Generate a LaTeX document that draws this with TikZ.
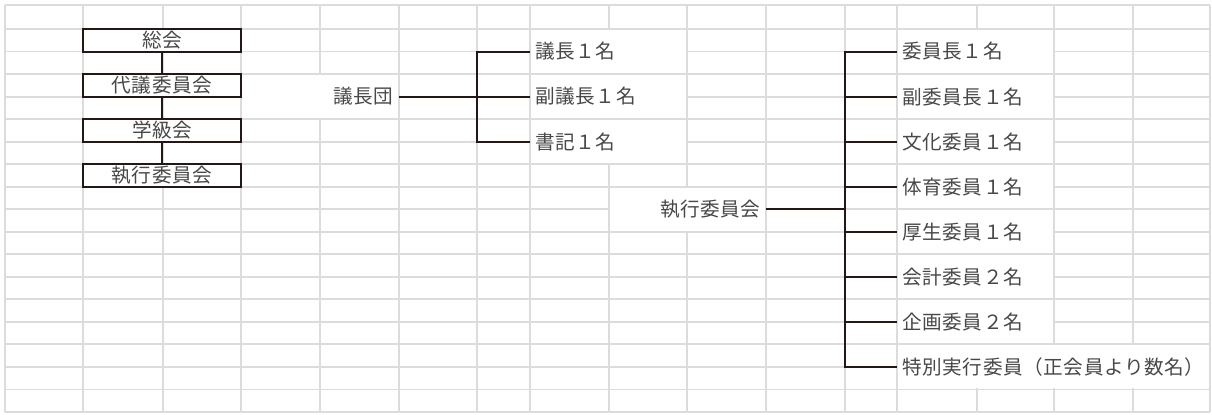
\documentclass[tikz,border=0pt]{standalone}
\usepackage{fontspec}
\setmainfont{Noto Sans CJK JP}[LetterSpace=3]
\definecolor{gridc}{RGB}{220,220,220}
\definecolor{ink}{RGB}{35,24,21}
\definecolor{txt}{RGB}{72,72,72}
\tikzset{
  gridline/.style={draw=gridc, line width=0.95pt},
  conn/.style={draw=ink, line width=1pt},
  jpfont/.style={font=\fontsize{9.8}{10}\selectfont, text=txt},
  orgbox/.style={jpfont, draw=ink, line width=1pt, fill=white, minimum width=79pt, minimum height=11.26pt, inner sep=0pt},
  lbl/.style={jpfont, inner xsep=2.5pt, inner ysep=0pt},
}
\newcommand\mcell[4]{\fill[white] ({#1+1},{#2+1}) rectangle ({#3-1},{#4-1});}
\begin{document}
\begin{tikzpicture}[x=0.5pt, y=-0.5pt]
\useasboundingbox[fill=white] (0,0) rectangle (1212,414);
% grid
\foreach \x in {5,83,163,241,320,399,477,530,609,687,766,845,897,977,1054,1133,1210}
  \draw[gridline] (\x,5) -- (\x,412);
\draw[gridline] (5,5) -- (1210,5);
\foreach \k in {0,...,17}
  \draw[gridline] (5,{29+22.5294*\k}) -- (1210,{29+22.5294*\k});
% merged cells
\mcell{241}{74.06}{399}{119.12}
\mcell{530}{29}{687}{74.06}
\mcell{530}{74.06}{687}{119.12}
\mcell{530}{119.12}{687}{164.18}
\mcell{609}{186.71}{766}{231.76}
\mcell{897}{29}{1054}{74.06}
\mcell{897}{74.06}{1054}{119.12}
\mcell{897}{119.12}{1054}{164.18}
\mcell{897}{164.18}{1054}{209.24}
\mcell{897}{209.24}{1054}{254.29}
\mcell{897}{254.29}{1054}{299.35}
\mcell{897}{299.35}{1054}{344.41}
\mcell{897}{344.41}{1210}{389.47}
% left stack
\node[orgbox] (soukai) at (162,40.26) {総会};
\node[orgbox] (daigi)  at (162,85.33) {代議委員会};
\node[orgbox] (gakkyu) at (162,130.38) {学級会};
\node[orgbox] (shikkoA) at (162,175.44) {執行委員会};
\draw[conn] (soukai) -- (daigi);
\draw[conn] (daigi) -- (gakkyu);
\draw[conn] (gakkyu) -- (shikkoA);
% 議長団
\node[lbl, anchor=east] (gichodan) at (399,96.59) {議長団};
\coordinate (b1) at (477,96.59);
\node[lbl, anchor=west] (g1) at (530,51.53) {議長１名};
\node[lbl, anchor=west] (g2) at (530,96.59) {副議長１名};
\node[lbl, anchor=west] (g3) at (530,141.65) {書記１名};
\draw[conn] (gichodan.east) -- (b1);
\draw[conn] (g1.west) -| (b1);
\draw[conn] (g2.west) -- (b1);
\draw[conn] (g3.west) -| (b1);
% 執行委員会
\node[lbl, anchor=east] (shikko) at (766,209.24) {執行委員会};
\coordinate (b2) at (845,209.24);
\node[lbl, anchor=west] (s1) at (897,51.53) {委員長１名};
\node[lbl, anchor=west] (s2) at (897,96.59) {副委員長１名};
\node[lbl, anchor=west] (s3) at (897,141.65) {文化委員１名};
\node[lbl, anchor=west] (s4) at (897,186.71) {体育委員１名};
\node[lbl, anchor=west] (s5) at (897,231.76) {厚生委員１名};
\node[lbl, anchor=west] (s6) at (897,276.82) {会計委員２名};
\node[lbl, anchor=west] (s7) at (897,321.88) {企画委員２名};
\node[lbl, anchor=west] (s8) at (897,366.94) {特別実行委員（正会員より数名）};
\draw[conn] (shikko.east) -- (b2);
\foreach \n in {s1,s2,s3,s4,s5,s6,s7,s8}
  \draw[conn] (\n.west) -| (b2);
\end{tikzpicture}
\end{document}
